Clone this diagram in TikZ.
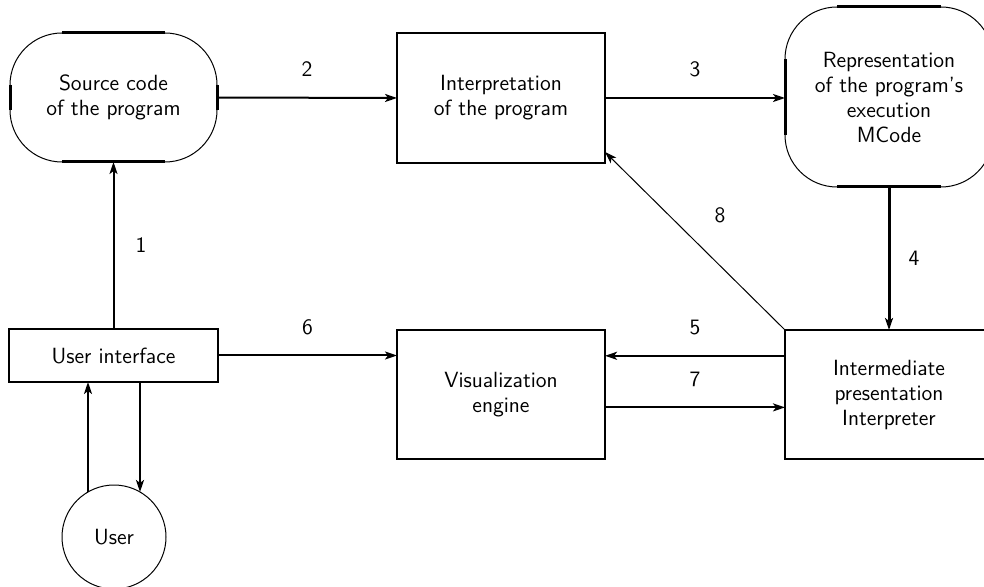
\documentclass[tikz,border=0pt]{standalone}
\usetikzlibrary{arrows.meta,calc}
\begin{document}
\begin{tikzpicture}[x=0.5pt,y=-0.5pt,
  font=\sffamily\fontsize{11}{12.5}\selectfont,
  box/.style={draw,line width=1pt,inner sep=0pt,outer sep=0pt,align=center},
  roundbox/.style={draw,line width=0.5pt,rounded corners=26pt,inner sep=0pt,outer sep=0pt,align=center},
  conn/.style={line width=1pt,-{Stealth[length=6pt,width=4pt,inset=1.5pt]}},
  lab/.style={inner sep=0pt}]
\useasboundingbox (0,0) rectangle (984,587);
\clip (0,0) rectangle (984,587);
% nodes
\node[roundbox,minimum width=103.5pt,minimum height=64.5pt] (src) at (113.5,97.5) {Source code\\of the program};
\node[box,minimum width=104pt,minimum height=65pt] (interp) at (501,98) {Interpretation\\of the program};
\node[roundbox,minimum width=104pt,minimum height=90pt] (repr) at (889,97) {Representation\\of the program's\\execution\\MCode};
\node[box,minimum width=104pt,minimum height=64.5pt] (inter) at (889,394.5) {Intermediate\\presentation\\Interpreter};
\node[box,minimum width=104pt,minimum height=64.5pt] (vis) at (501,394.5) {Visualization\\engine};
\node[box,minimum width=104.5pt,minimum height=26.5pt] (ui) at (113.5,355.5) {User interface};
\node[draw,line width=0.5pt,circle,minimum size=52pt,inner sep=0pt,outer sep=0pt] (user) at (114,537) {User};
% thick straight parts of the rounded boxes
\foreach \n in {src,repr}{
  \draw[line width=1.5pt] ([xshift=26pt]\n.north west) -- ([xshift=-26pt]\n.north east);
  \draw[line width=1.5pt] ([xshift=26pt]\n.south west) -- ([xshift=-26pt]\n.south east);
  \draw[line width=1.5pt] ([yshift=-26pt]\n.north west) -- ([yshift=26pt]\n.south west);
  \draw[line width=1.5pt] ([yshift=-26pt]\n.north east) -- ([yshift=26pt]\n.south east);
}
% connectors
\draw[conn] (ui.north) -- node[lab,pos=0.5,right=10.5pt]{1} (src.south);
\draw[conn] (src.east) -- node[lab,above=10pt]{2} (interp.west);
\draw[conn] (interp.east) -- node[lab,above=10pt]{3} (repr.west |- interp.east);
\draw[conn,line width=1.5pt] (repr.south -| inter.north) -- node[lab,right=9pt]{4} (inter.north);
\coordinate (a5) at ($(inter.north west)!0.2!(inter.south west)$);
\draw[conn] (a5) -- node[lab,above=10pt]{5} (a5 -| vis.east);
\draw[conn] (ui.east) -- node[lab,above=10pt]{6} (ui.east -| vis.west);
\coordinate (a7) at ($(vis.north east)!0.6!(vis.south east)$);
\draw[conn] (a7) -- node[lab,above=10pt]{7} (a7 -| inter.west);
\draw[conn,line width=0.5pt] (inter.north west) -- ([yshift=5.5pt]interp.south east);
\node[lab] (l8) at (720,215) {8};
\draw[conn] (user.120) -- (user.120 |- ui.south);
\draw[conn] (user.60 |- ui.south) -- (user.60);
\end{tikzpicture}
\end{document}
